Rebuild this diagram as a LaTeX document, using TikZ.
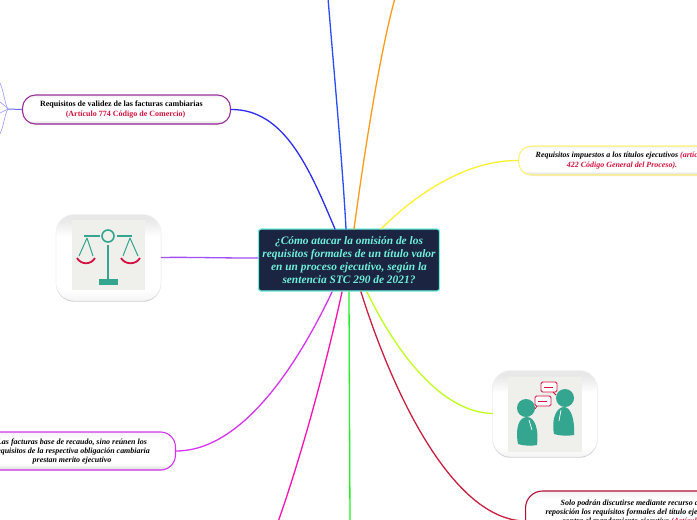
\documentclass[tikz,border=0pt]{standalone}
\usepackage{fontspec}
\setmainfont{Liberation Serif}
\usetikzlibrary{shadows}
\definecolor{nav}{HTML}{1B2440}
\definecolor{mint}{HTML}{6FF0DC}
\definecolor{tealc}{HTML}{34A58E}
\definecolor{redd}{HTML}{D3123F}
\definecolor{pale}{HTML}{EFEFEC}
\definecolor{cblue}{HTML}{2A4CFF}
\definecolor{corange}{HTML}{FF9A1A}
\definecolor{cyel}{HTML}{FFF030}
\definecolor{cleft}{HTML}{2E2EF0}
\definecolor{cviol}{HTML}{A24FF5}
\definecolor{cmag}{HTML}{D535F0}
\definecolor{cpink}{HTML}{FF10B0}
\definecolor{cgreen}{HTML}{22F022}
\definecolor{clime}{HTML}{BFFF20}
\definecolor{cred}{HTML}{C8203F}
\definecolor{cpurp}{HTML}{9B2F9B}
\definecolor{cpyel}{HTML}{FFF27A}
\definecolor{ctwig}{HTML}{9A9AFF}
\pgfdeclareverticalshading{topicsh}{100bp}{color(0bp)=(gray!32); color(25bp)=(gray!32); color(32bp)=(white); color(68bp)=(white); color(75bp)=(gray!10); color(100bp)=(gray!10)}
\pgfdeclareverticalshading{imgsh}{100bp}{color(0bp)=(gray!8); color(25bp)=(gray!8); color(31bp)=(white); color(62bp)=(white); color(72bp)=(gray!18); color(75bp)=(gray!18); color(100bp)=(gray!18)}
\tikzset{
 conn/.style={line width=1.3pt,line cap=round},
 topic/.style={draw,rounded corners=13pt,line width=1.1pt,shade,shading=topicsh,align=center,inner sep=0pt,font=\fontsize{8}{9.3}\selectfont\bfseries,text=black,drop shadow={shadow xshift=0pt,shadow yshift=-1pt,opacity=.15}},
 topicit/.style={topic,font=\fontsize{7.95}{9.3}\selectfont\bfseries\itshape},
 imgbox/.style={draw=gray!10,line width=.6pt,rounded corners=18pt,shade,shading=imgsh,minimum width=105pt,minimum height=86pt,drop shadow={shadow xshift=0pt,shadow yshift=-1.2pt,opacity=.2,fill=black}},
 tealline/.style={draw=tealc,line width=1.6pt},
 redline/.style={draw=redd,line width=1.8pt},
 bubble/.style={draw=redd,fill=white,line width=.8pt,rounded corners=1.5pt},
 twig/.style={line width=.6pt,draw=ctwig},
}
\begin{document}
\begin{tikzpicture}[x=1pt,y=-1pt]
\useasboundingbox (0,0) rectangle (697,520);
\clip (0,0) rectangle (697,520);
\fill[white] (0,0) rectangle (697,520);
\node[draw=mint,line width=1.2pt,fill=nav,rounded corners=2.5pt,minimum width=181pt,minimum height=62pt,inner sep=0pt,align=center,text=mint,font=\fontsize{11.4}{13.1}\selectfont\bfseries\itshape] (main) at (349,260) {¿Cómo atacar la omisión de los\\ requisitos formales de un título valor\\ en un proceso ejecutivo, según la\\ sentencia STC 290 de 2021?};
% free ends
\coordinate (t1) at (328,-2);
\coordinate (t2) at (395,-2);
\coordinate (b1) at (278,522);
\coordinate (b2) at (350,522);
\coordinate (tw) at (8,109);
\coordinate (tw1) at (0,83);
\coordinate (tw2) at (0,102);
\coordinate (tw3) at (0,113);
\coordinate (tw4) at (0,134);
% nodes
\node[topic,draw=cpurp,minimum width=208pt,minimum height=29pt] (val) at (126.5,109.5) {\hspace*{-10pt}Requisitos de validez de las facturas cambiarias\\ \hspace*{-2pt}\textcolor{redd}{(Artículo 774 Código de Comercio)}};
\node[topicit,draw=cpyel,minimum width=207pt,minimum height=29pt,anchor=west] (imp) at (518,160.5) {Requisitos impuestos a los títulos ejecutivos \textcolor{redd}{(artículo}\\ \textcolor{redd}{422 Código General del Proceso).}};
\node[topicit,draw=redd!85!black,rounded corners=17pt,minimum width=260pt,minimum height=60pt,anchor=west] (sol) at (525,521) {};
\node[align=center,font=\fontsize{7.95}{9.3}\selectfont\bfseries\itshape,anchor=north] (soltxt) at (631.5,496) {Solo podrán discutirse mediante recurso de\\ reposición los requisitos formales del título ejecutivo\\ contra el mandamiento ejecutivo \textcolor{redd}{(Artículo}};
\node[topicit,draw=cmag,minimum width=200pt,minimum height=38pt,rounded corners=15pt,anchor=east] (fac) at (176,451) {};
\node[align=center,font=\fontsize{7.95}{9.3}\selectfont\bfseries\itshape] (factxt) at (72,451.5) {Las facturas base de recaudo, sino reúnen los\\ requisitos de la respectiva obligación cambiaria\\ prestan merito ejecutivo};
\node[imgbox] (bal) at (108.5,257.5) {};
\node[imgbox] (ppl) at (545,413.5) {};
% connectors
\draw[conn,draw=cblue] (346,229) coordinate (a1) .. controls (343,170) and (333,60) .. (t1);
\draw[conn,draw=corange] (354,229) coordinate (a2) .. controls (362,170) and (378,60) .. (t2);
\draw[conn,draw=cyel] (381,229) coordinate (a3) .. controls (420,190) and (470,160) .. (imp.west);
\draw[conn,draw=cleft] (335,229) coordinate (a4) .. controls (310,170) and (285,109) .. (val.east);
\draw[conn,draw=cviol] (main.west) ++(0,-2) coordinate (a5) (a5) .. controls (210,258) and (190,257) .. (bal.east);
\draw[conn,draw=cmag] (332,292) coordinate (a6) .. controls (295,370) and (240,451) .. (fac.east);
\draw[conn,draw=cpink] (342,292) coordinate (a7) .. controls (325,370) and (300,460) .. (b1);
\draw[conn,draw=cgreen] (349,292) coordinate (a8) -- (b2);
\draw[conn,draw=clime] (367,292) coordinate (a9) .. controls (395,350) and (440,412) .. (ppl.west);
\draw[conn,draw=cred] (361,292) coordinate (a10) .. controls (395,400) and (455,520) .. (sol.west);
\draw[line width=1pt,draw=cleft!70!white] (val.west) -- (tw);
\draw[twig] (tw) .. controls (5,105) and (4,92) .. (tw1);
\draw[twig] (tw) .. controls (5,106) and (3,104) .. (tw2);
\draw[twig] (tw) .. controls (5,110) and (3,112) .. (tw3);
\draw[twig] (tw) .. controls (5,113) and (4,125) .. (tw4);
% scale picture
\fill[pale] (72,220) rectangle (145,290);
\draw[tealline] (84,236) -- (100,236) (117,236) -- (132,236);
\draw[tealline] (108,236) circle (6pt);
\draw[tealline] (108,245) -- (108,279);
\fill[tealc] (99,279) rectangle (118,285);
\draw[tealc,line width=1pt] (87,238) -- (79,256) (87,238) -- (93,256) (130,238) -- (123,256) (130,238) -- (138,256);
\draw[redline] (77,258) .. controls (81,265) and (91,265) .. (95,258);
\draw[redline] (121,258) .. controls (125,265) and (136,265) .. (140,258);
% people picture
\fill[pale] (508,377) rectangle (582,452);
\fill[tealc] (526,408) circle (9pt);
\fill[tealc] (565,398) circle (9pt);
\fill[tealc] (518,444) .. controls (515,428) and (519,417) .. (527,417) .. controls (535,417) and (539,430) .. (537,445) .. controls (532,446) and (524,446) .. (518,444) -- cycle;
\fill[tealc] (554,434) .. controls (551,418) and (557,407) .. (564,407) .. controls (571,407) and (575,420) .. (574,435) .. controls (568,436) and (560,436) .. (554,434) -- cycle;
\draw[white,line width=.7pt] (529,420) -- (532,430);
\draw[white,line width=.7pt] (561,410) -- (559,421);
\draw[bubble] (541,382) rectangle (557,392);
\draw[redd,line width=.8pt] (544,387) -- (553,387);
\draw[redd,line width=.8pt] (553,392) -- (556,395);
\draw[bubble] (535,396) rectangle (551,406);
\draw[redd,line width=.8pt] (538,401) -- (547,401);
\draw[redd,line width=.8pt] (537,406) -- (535,409);
\end{tikzpicture}
\end{document}
